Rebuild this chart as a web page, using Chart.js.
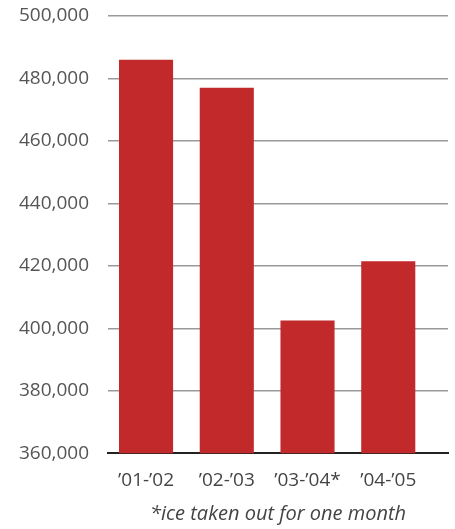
<!DOCTYPE html>
<html>
<head>
<meta charset="utf-8">
<script src="https://cdn.jsdelivr.net/npm/chart.js@4/dist/chart.umd.min.js"></script>
<style>
  html, body { margin: 0; padding: 0; background: #fff; }
  #wrap { width: 455px; height: 529px; }
</style>
</head>
<body>
<div id="wrap"><canvas id="iceChart" width="455" height="529"></canvas></div>
<script>
const seasons = ["\u201901-\u201902", "\u201902-\u201903", "\u201903-\u201904*", "\u201904-\u201905"];
const attendance = [486000, 477000, 402500, 421500];
const yTicks = [360000, 380000, 400000, 420000, 440000, 460000, 480000, 500000];
const footnote = "*ice taken out for one month";

const ctx = document.getElementById("iceChart").getContext("2d");
new Chart(ctx, {
  type: "bar",
  data: {
    datasets: [{
      data: attendance.map((v, i) => ({ x: i, y: v })),
      backgroundColor: "#c2292a",
      borderWidth: 0,
      barPercentage: 0.67,
      categoryPercentage: 1
    }]
  },
  options: {
    responsive: false,
    animation: false,
    layout: { padding: { top: 16, right: 7, left: 19, bottom: 3 } },
    plugins: { legend: { display: false }, tooltip: { enabled: false } },
    scales: {
      x: {
        type: "linear",
        offset: false,
        min: -0.47,
        max: 3.74,
        afterBuildTicks: axis => { axis.ticks = seasons.map((s, i) => ({ value: i })); },
        ticks: {
          callback: v => seasons[v],
          color: "#444",
          font: { family: "Open Sans", size: 19 },
          padding: 8,
          maxRotation: 0,
          autoSkip: false
        },
        grid: { display: false },
        border: { display: true, color: "#222", width: 2 },
        title: {
          display: true,
          text: footnote,
          color: "#444",
          font: { family: "Open Sans", size: 20, style: "italic" },
          padding: { top: 2, bottom: 0 }
        }
      },
      y: {
        min: 360000,
        max: 500000,
        afterBuildTicks: axis => { axis.ticks = yTicks.map(v => ({ value: v })); },
        ticks: {
          callback: v => v.toLocaleString("en-US"),
          color: "#555",
          font: { family: "Open Sans", size: 19 },
          padding: 0
        },
        grid: { color: "#999", lineWidth: 1.5, drawTicks: true, tickLength: 19, tickColor: "rgba(0,0,0,0)" },
        border: { display: false }
      }
    }
  }
});
</script>
</body>
</html>
